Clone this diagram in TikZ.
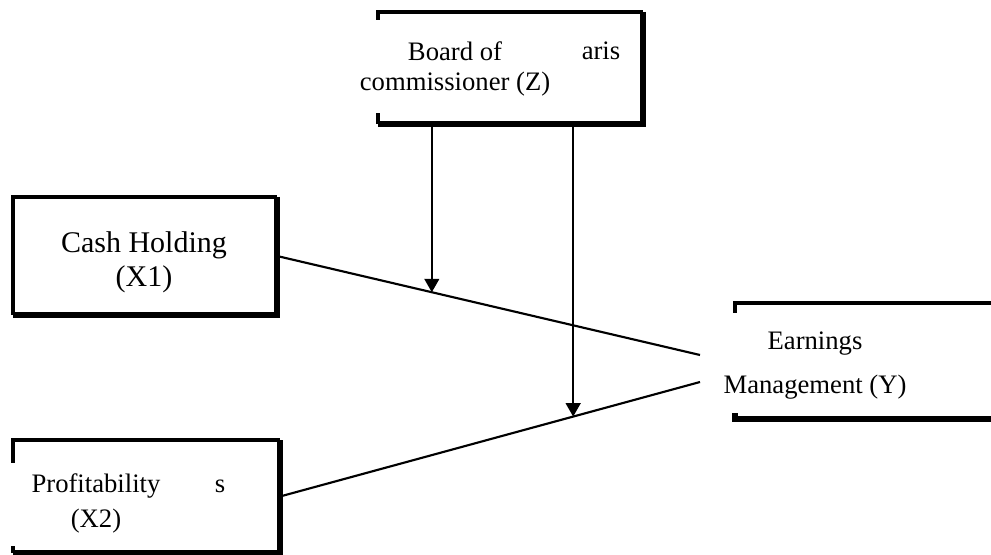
\documentclass[tikz,border=0pt]{standalone}
\usepackage{fontspec}
\setmainfont{Liberation Serif}
\usetikzlibrary{positioning, calc, arrows.meta}

\begin{document}
\begin{tikzpicture}[x=0.75pt, y=-0.75pt,
	box/.style={inner sep=0pt, outer sep=0pt},
	txt/.style={align=center, anchor=base, inner sep=0pt},
	frame/.style={line width=2.3pt},
	heavy/.style={line width=4pt},
	link/.style={line width=1.6pt},
	arrow/.style={link, -{Triangle[length=10pt, width=11pt]}}]
	\useasboundingbox (0,0) rectangle (991,555);
	\node[box, minimum width=198.75pt, minimum height=84pt] (zbox) at (510.5, 68) {};
	\node[box, minimum width=198pt, minimum height=88.5pt] (cbox) at (145, 256) {};
	\node[box, minimum width=200.25pt, minimum height=84.75pt] (pbox) at (146.5, 496.5) {};
	\node[box, minimum width=206.25pt, minimum height=87pt] (ybox) at (872.5, 361) {};
	\node[txt, font=\fontsize{20}{22.5}\selectfont] (z) at (455, 91) {Board of\\commissioner (Z)};
	\node[txt, font=\fontsize{20}{22.5}\selectfont] (zrest) at (601, 60) {aris};
	\node[txt, font=\fontsize{22.5}{25.5}\selectfont] (x1) at (144, 287) {Cash Holding\\(X1)};
	\node[txt, font=\fontsize{20}{26}\selectfont] (x2) at (96, 527) {Profitability\\(X2)};
	\node[txt, font=\fontsize{20}{26}\selectfont] (x2rest) at (220, 492) {s};
	\node[txt, font=\fontsize{20}{33}\selectfont] (y) at (815, 393) {Earnings\\Management (Y)};
	% frames
	\draw[frame] ([yshift=-6pt]zbox.north west) -- (zbox.north west) -- (zbox.north east)
	             (zbox.south west) -- ([yshift=8pt]zbox.south west);
	\draw[heavy] (zbox.north east) -- (zbox.south east) -- (zbox.south west);
	\draw[frame] (cbox.south west) -- (cbox.north west) -- (cbox.north east);
	\draw[heavy] (cbox.north east) -- (cbox.south east) -- (cbox.south west);
	\draw[frame] ([yshift=-17pt]pbox.north west) -- (pbox.north west) -- (pbox.north east)
	             (pbox.south west) -- ([yshift=5pt]pbox.south west);
	\draw[heavy] (pbox.north east) -- (pbox.south east) -- (pbox.south west);
	\draw[frame] ([yshift=-7.5pt]ybox.north west) -- (ybox.north west) -- (ybox.north east);
	\draw[heavy] (ybox.south east) -- (ybox.south west) -- ([yshift=4.5pt]ybox.south west);
	% links
	\coordinate (j1) at (700, 355);
	\coordinate (j2) at (700, 382);
	\coordinate (m1) at ($(cbox.east)!0.366!(j1)$);
	\coordinate (m2) at ($(pbox.east)!0.698!(j2)$);
	\draw[link] (cbox.east) -- (j1)
	            (pbox.east) -- (j2);
	\draw[arrow] (zbox.south -| m1) -- (m1);
	\draw[arrow] (zbox.south -| m2) -- (m2);
\end{tikzpicture}
\end{document}
